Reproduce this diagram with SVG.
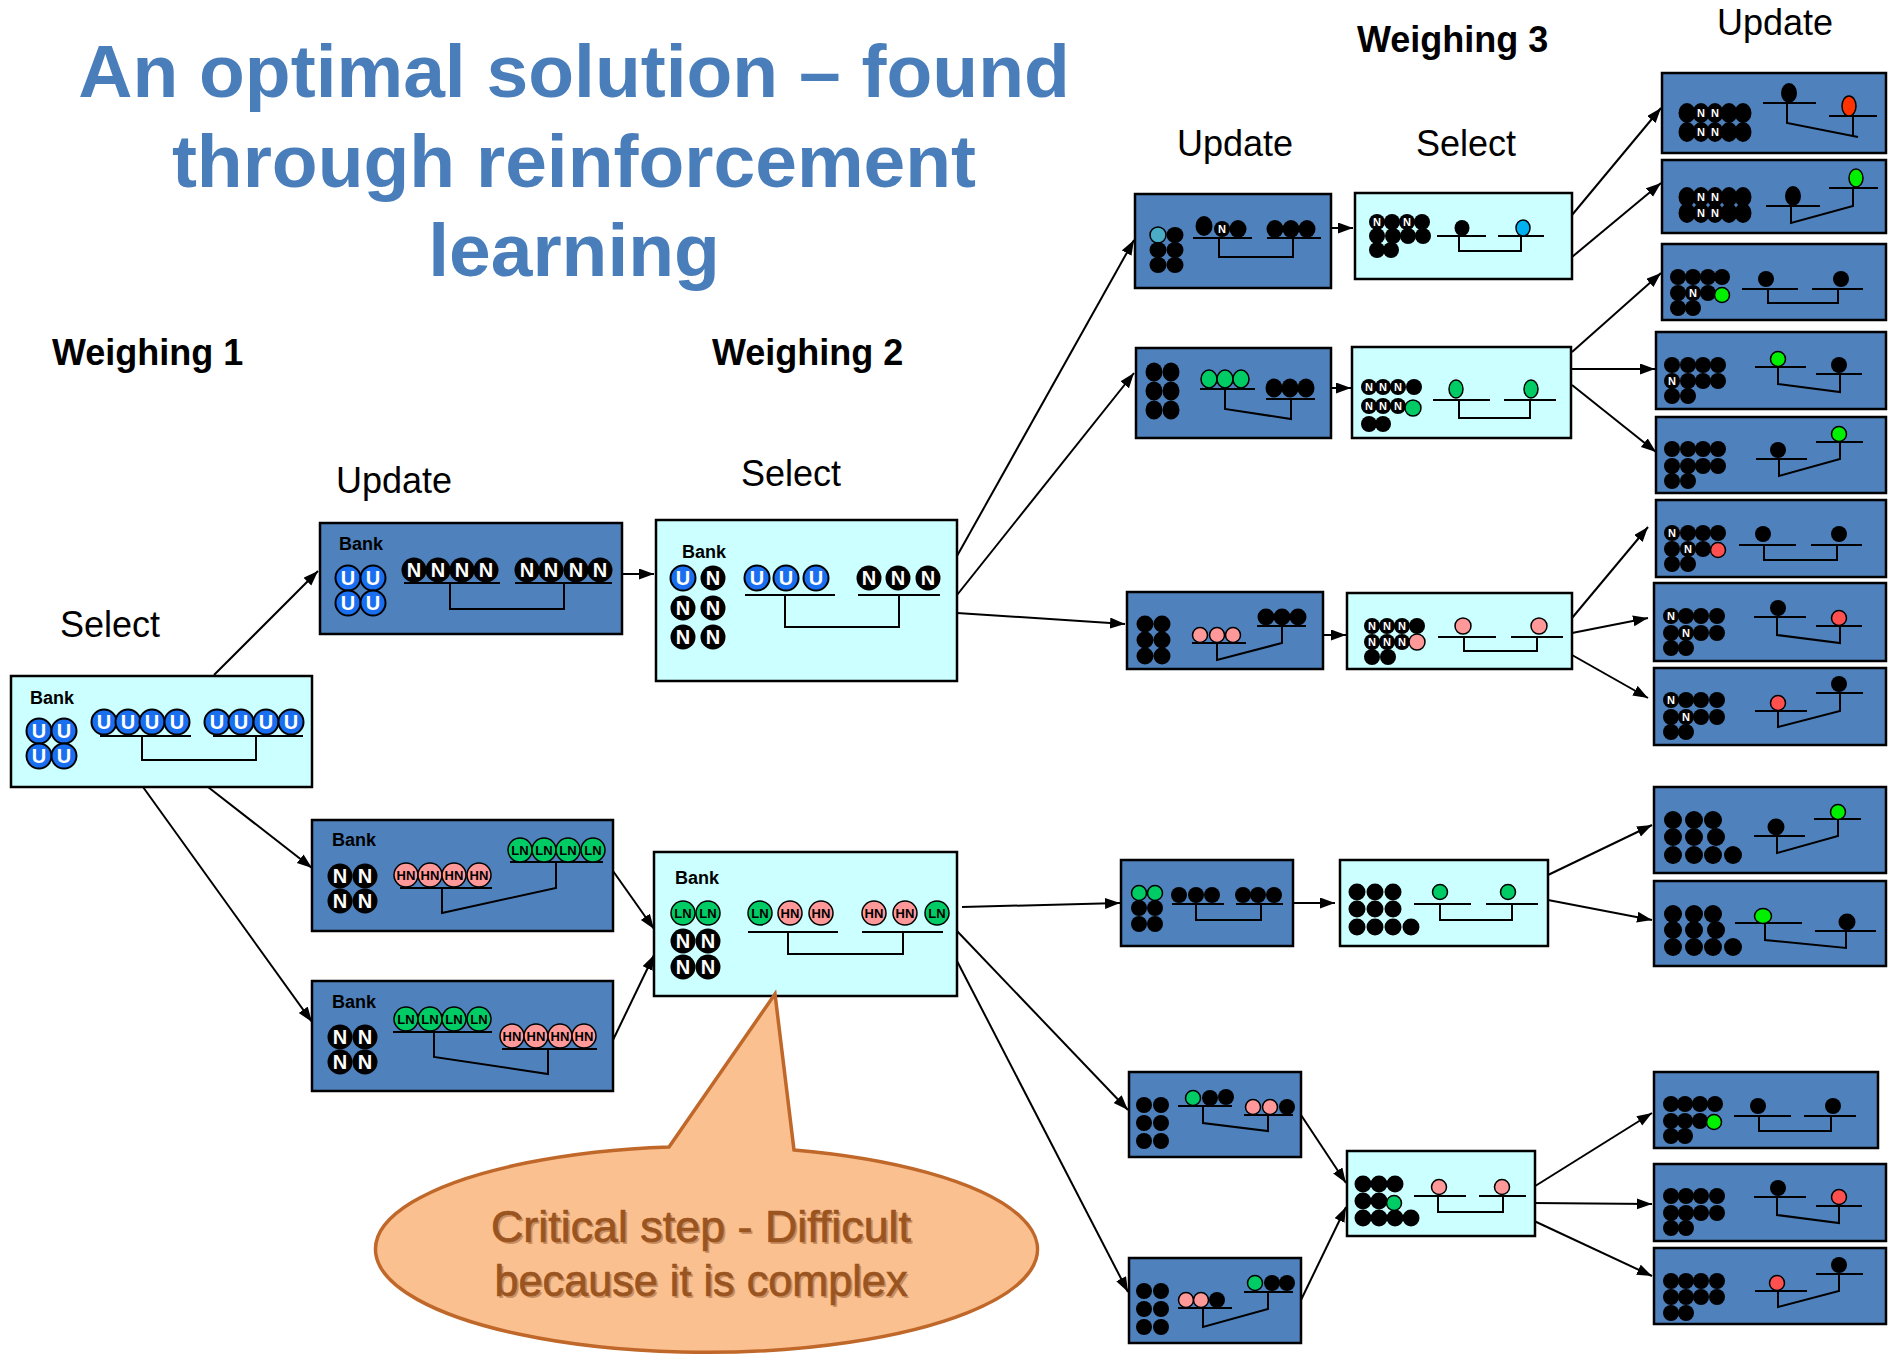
<svg xmlns="http://www.w3.org/2000/svg" width="1896" height="1356" viewBox="0 0 1896 1356">
<style>
  .title { font-family: "Liberation Sans", Arial, sans-serif; font-weight: bold; font-size: 75px; fill: #4a7ebb; text-anchor: middle; }
  .head { font-family: "Liberation Sans", Arial, sans-serif; font-weight: bold; font-size: 36px; fill: #000; }
  .step { font-family: "Liberation Sans", Arial, sans-serif; font-size: 36px; fill: #000; }
  .bank { font-family: "Liberation Sans", Arial, sans-serif; font-weight: bold; font-size: 18px; fill: #000; }
  .bxb { fill: #4f81bd; stroke: #000; stroke-width: 2.5; }
  .bxc { fill: #ccffff; stroke: #000; stroke-width: 2.5; }
  .ln { fill: none; stroke: #000; stroke-width: 2; }
  .k { fill: #000; }
  .g { fill: #00cc66; stroke: #000; stroke-width: 1.5; }
  .gb { fill: #00f000; stroke: #000; stroke-width: 1.5; }
  .p { fill: #ff9999; stroke: #000; stroke-width: 1.5; }
  .r { fill: #ff5050; stroke: #000; stroke-width: 1.5; }
  .rr { fill: #ff3300; stroke: #000; stroke-width: 1.5; }
  .tw { font-family: "Liberation Sans", Arial, sans-serif; font-weight: bold; font-size: 20px; fill: #fff; text-anchor: middle; }
  .tk { font-family: "Liberation Sans", Arial, sans-serif; font-weight: bold; font-size: 13px; fill: #000; text-anchor: middle; }
  .tn { font-family: "Liberation Sans", Arial, sans-serif; font-weight: bold; font-size: 11px; fill: #fff; text-anchor: middle; }
  .conn { fill: none; stroke: #000; stroke-width: 2; marker-end: url(#arrow); }
  .callout { fill: #fac090; stroke: #c0672a; stroke-width: 3.5; }
  .ctext { font-family: "Liberation Sans", Arial, sans-serif; font-size: 44px; fill: #9a5420; stroke: #9a5420; stroke-width: 0.7; text-anchor: middle; }
  .cshadow { font-family: "Liberation Sans", Arial, sans-serif; font-size: 44px; fill: #6b3410; opacity: 0.35; text-anchor: middle; }
</style>
<defs>
  <marker id="arrow" markerUnits="userSpaceOnUse" markerWidth="16" markerHeight="12" refX="15" refY="5.5" orient="auto">
    <path d="M0,0 L15,5.5 L0,11 z" fill="#000"/>
  </marker>
  <!-- large coins -->
  <g id="cU"><circle r="12.5" fill="#1a6ff0" stroke="#000" stroke-width="2"/><text class="tw" y="7">U</text></g>
  <g id="cN"><circle r="12.5" fill="#000"/><text class="tw" y="7">N</text></g>
  <g id="cHN"><circle r="12" class="p"/><text class="tk" y="4.7">HN</text></g>
  <g id="cLN"><circle r="12" class="g"/><text class="tk" y="4.7">LN</text></g>
  <!-- small coins -->
  <g id="kN"><circle r="8" fill="#000"/><text class="tn" y="4">N</text></g>
  <g id="kNe"><ellipse rx="8.5" ry="10" fill="#000"/><text class="tn" y="4">N</text></g>
</defs>

<!-- headings -->
<g id="headings">
  <text class="title" x="574" y="97">An optimal solution – found</text>
  <text class="title" x="574" y="187">through reinforcement</text>
  <text class="title" x="574" y="276">learning</text>
  <text class="head" x="52" y="365">Weighing 1</text>
  <text class="head" x="712" y="365">Weighing 2</text>
  <text class="head" x="1357" y="52">Weighing 3</text>
  <text class="step" x="60" y="637">Select</text>
  <text class="step" x="336" y="493">Update</text>
  <text class="step" x="741" y="486">Select</text>
  <text class="step" x="1177" y="156">Update</text>
  <text class="step" x="1416" y="156">Select</text>
  <text class="step" x="1717" y="35">Update</text>
</g>

<!-- connectors -->
<g id="connectors">
  <line class="conn" x1="214" y1="675" x2="318" y2="571"/>
  <line class="conn" x1="208" y1="787" x2="312" y2="868"/>
  <line class="conn" x1="143" y1="787" x2="312" y2="1022"/>
  <line class="conn" x1="622" y1="574" x2="654" y2="574"/>
  <line class="conn" x1="613" y1="871" x2="654" y2="929"/>
  <line class="conn" x1="613" y1="1040" x2="654" y2="955"/>
  <line class="conn" x1="957" y1="556" x2="1134" y2="240"/>
  <line class="conn" x1="957" y1="595" x2="1134" y2="373"/>
  <line class="conn" x1="957" y1="613" x2="1125" y2="624"/>
  <line class="conn" x1="962" y1="907" x2="1120" y2="903"/>
  <line class="conn" x1="957" y1="931" x2="1128" y2="1110"/>
  <line class="conn" x1="957" y1="961" x2="1128" y2="1292"/>
  <line class="conn" x1="1331" y1="228" x2="1353" y2="228"/>
  <line class="conn" x1="1331" y1="388" x2="1351" y2="388"/>
  <line class="conn" x1="1323" y1="635" x2="1346" y2="635"/>
  <line class="conn" x1="1293" y1="903" x2="1335" y2="903"/>
  <line class="conn" x1="1301" y1="1115" x2="1346" y2="1183"/>
  <line class="conn" x1="1301" y1="1300" x2="1346" y2="1207"/>
  <line class="conn" x1="1572" y1="215" x2="1661" y2="108"/>
  <line class="conn" x1="1572" y1="257" x2="1661" y2="183"/>
  <line class="conn" x1="1572" y1="352" x2="1661" y2="273"/>
  <line class="conn" x1="1572" y1="369" x2="1655" y2="369"/>
  <line class="conn" x1="1572" y1="385" x2="1656" y2="452"/>
  <line class="conn" x1="1572" y1="618" x2="1648" y2="527"/>
  <line class="conn" x1="1572" y1="633" x2="1648" y2="618"/>
  <line class="conn" x1="1572" y1="655" x2="1648" y2="698"/>
  <line class="conn" x1="1548" y1="875" x2="1652" y2="825"/>
  <line class="conn" x1="1548" y1="900" x2="1652" y2="920"/>
  <line class="conn" x1="1532" y1="1188" x2="1652" y2="1113"/>
  <line class="conn" x1="1532" y1="1203" x2="1652" y2="1204"/>
  <line class="conn" x1="1532" y1="1220" x2="1652" y2="1276"/>
</g>

<!-- weighing 1: select -->
<g id="w1-select">
  <rect class="bxc" x="11" y="676" width="301" height="111"/>
  <text class="bank" x="30" y="704">Bank</text>
  <use href="#cU" x="39" y="731"/><use href="#cU" x="64" y="731"/><use href="#cU" x="39" y="756"/><use href="#cU" x="64" y="756"/>
  <path class="ln" d="M100,736 H191 M213,736 H303 M142,736 V760 H256 V736"/>
  <use href="#cU" x="104" y="722"/><use href="#cU" x="128" y="722"/><use href="#cU" x="152" y="722"/><use href="#cU" x="177" y="722"/>
  <use href="#cU" x="217" y="722"/><use href="#cU" x="241" y="722"/><use href="#cU" x="266" y="722"/><use href="#cU" x="291" y="722"/>
</g>

<!-- weighing 1: updates -->
<g id="w1-update-a">
  <rect class="bxb" x="320" y="523" width="302" height="111"/>
  <text class="bank" x="339" y="550">Bank</text>
  <use href="#cU" x="348" y="578"/><use href="#cU" x="373" y="578"/><use href="#cU" x="348" y="603"/><use href="#cU" x="373" y="603"/>
  <path class="ln" d="M404,583 H500 M515,583 H612 M450,583 V609 H564 V583"/>
  <use href="#cN" x="414" y="570"/><use href="#cN" x="438" y="570"/><use href="#cN" x="462" y="570"/><use href="#cN" x="486" y="570"/>
  <use href="#cN" x="527" y="570"/><use href="#cN" x="551" y="570"/><use href="#cN" x="576" y="570"/><use href="#cN" x="600" y="570"/>
</g>
<g id="w1-update-b">
  <rect class="bxb" x="312" y="820" width="301" height="111"/>
  <text class="bank" x="332" y="846">Bank</text>
  <use href="#cN" x="340" y="876"/><use href="#cN" x="365" y="876"/><use href="#cN" x="340" y="901"/><use href="#cN" x="365" y="901"/>
  <path class="ln" d="M400,888 H492 M510,862 H603 M442,888 V913 L556,888 V862"/>
  <use href="#cHN" x="406" y="875"/><use href="#cHN" x="430" y="875"/><use href="#cHN" x="454" y="875"/><use href="#cHN" x="479" y="875"/>
  <use href="#cLN" x="520" y="850"/><use href="#cLN" x="544" y="850"/><use href="#cLN" x="568" y="850"/><use href="#cLN" x="593" y="850"/>
</g>
<g id="w1-update-c">
  <rect class="bxb" x="312" y="981" width="301" height="110"/>
  <text class="bank" x="332" y="1008">Bank</text>
  <use href="#cN" x="340" y="1037"/><use href="#cN" x="365" y="1037"/><use href="#cN" x="340" y="1062"/><use href="#cN" x="365" y="1062"/>
  <path class="ln" d="M393,1032 H492 M502,1049 H597 M434,1032 V1057 L548,1074 V1049"/>
  <use href="#cLN" x="406" y="1019"/><use href="#cLN" x="430" y="1019"/><use href="#cLN" x="454" y="1019"/><use href="#cLN" x="479" y="1019"/>
  <use href="#cHN" x="512" y="1036"/><use href="#cHN" x="536" y="1036"/><use href="#cHN" x="560" y="1036"/><use href="#cHN" x="584" y="1036"/>
</g>

<!-- weighing 2: selects -->
<g id="w2-select-a">
  <rect class="bxc" x="656" y="520" width="301" height="161"/>
  <text class="bank" x="682" y="558">Bank</text>
  <use href="#cU" x="683" y="578"/><use href="#cN" x="713" y="578"/><use href="#cN" x="683" y="608"/><use href="#cN" x="713" y="608"/><use href="#cN" x="683" y="637"/><use href="#cN" x="713" y="637"/>
  <path class="ln" d="M745,595 H835 M858,595 H940 M785,595 V627 H899 V595"/>
  <use href="#cU" x="757" y="578"/><use href="#cU" x="786" y="578"/><use href="#cU" x="816" y="578"/>
  <use href="#cN" x="869" y="578"/><use href="#cN" x="898" y="578"/><use href="#cN" x="928" y="578"/>
</g>
<g id="w2-select-b">
  <rect class="bxc" x="654" y="852" width="303" height="144"/>
  <text class="bank" x="675" y="884">Bank</text>
  <use href="#cLN" x="683" y="913"/><use href="#cLN" x="708" y="913"/>
  <use href="#cN" x="683" y="941"/><use href="#cN" x="708" y="941"/><use href="#cN" x="683" y="967"/><use href="#cN" x="708" y="967"/>
  <path class="ln" d="M748,932 H838 M862,932 H943 M788,932 V954 H903 V932"/>
  <use href="#cLN" x="760" y="913"/><use href="#cHN" x="790" y="913"/><use href="#cHN" x="821" y="913"/>
  <use href="#cHN" x="874" y="913"/><use href="#cHN" x="905" y="913"/><use href="#cLN" x="937" y="913"/>
</g>

<!-- weighing 3: updates and selects -->
<g id="w3-update-a">
  <rect class="bxb" x="1135" y="194" width="196" height="94"/>
  <ellipse cx="1158" cy="235" rx="8" ry="8" fill="#4bacc6" stroke="#000" stroke-width="1.5"/>
  <ellipse class="k" cx="1175" cy="235" rx="8.5" ry="8"/><ellipse class="k" cx="1158" cy="250" rx="8.5" ry="8"/><ellipse class="k" cx="1175" cy="250" rx="8.5" ry="8"/>
  <ellipse class="k" cx="1158" cy="265" rx="8.5" ry="8"/><ellipse class="k" cx="1175" cy="265" rx="8.5" ry="8"/>
  <path class="ln" d="M1193,238 H1252 M1267,238 H1321 M1219,238 V257 H1293 V238"/>
  <ellipse class="k" cx="1204" cy="226" rx="8.5" ry="10"/><use href="#kN" x="1222" y="229"/><ellipse class="k" cx="1238" cy="229" rx="8.5" ry="9"/>
  <ellipse class="k" cx="1275" cy="229" rx="8.5" ry="9"/><ellipse class="k" cx="1291" cy="229" rx="8.5" ry="9"/><ellipse class="k" cx="1307" cy="229" rx="8.5" ry="9"/>
</g>
<g id="w3-select-a">
  <rect class="bxc" x="1355" y="193" width="217" height="86"/>
  <circle class="k" cx="1393" cy="236" r="8"/><circle class="k" cx="1408" cy="236" r="8"/><circle class="k" cx="1423" cy="236" r="8"/><circle class="k" cx="1377" cy="236" r="8"/>
  <circle class="k" cx="1377" cy="250" r="8"/><circle class="k" cx="1391" cy="250" r="8"/>
  <use href="#kN" x="1377" y="222"/><circle class="k" cx="1392" cy="222" r="8"/><use href="#kN" x="1407" y="222"/><circle class="k" cx="1422" cy="222" r="8"/>
  <path class="ln" d="M1437,236 H1486 M1498,236 H1544 M1459,236 V251 H1521 V236"/>
  <ellipse class="k" cx="1462" cy="228" rx="7.5" ry="8"/>
  <ellipse cx="1523" cy="228" rx="7" ry="8" fill="#00b0f0" stroke="#000" stroke-width="1.5"/>
</g>
<g id="w3-update-b">
  <rect class="bxb" x="1136" y="348" width="195" height="90"/>
  <ellipse class="k" cx="1154" cy="372" rx="8.5" ry="9.5"/><ellipse class="k" cx="1171" cy="372" rx="8.5" ry="9.5"/>
  <ellipse class="k" cx="1154" cy="391" rx="8.5" ry="9.5"/><ellipse class="k" cx="1171" cy="391" rx="8.5" ry="9.5"/>
  <ellipse class="k" cx="1154" cy="410" rx="8.5" ry="9.5"/><ellipse class="k" cx="1171" cy="410" rx="8.5" ry="9.5"/>
  <path class="ln" d="M1200,389 H1255 M1266,399 H1315 M1225,389 V409 L1291,419 V399"/>
  <ellipse class="g" cx="1209" cy="379" rx="8" ry="9"/><ellipse class="g" cx="1225" cy="379" rx="8" ry="9"/><ellipse class="g" cx="1241" cy="379" rx="8" ry="9"/>
  <ellipse class="k" cx="1274" cy="388" rx="8.5" ry="9.5"/><ellipse class="k" cx="1290" cy="388" rx="8.5" ry="9.5"/><ellipse class="k" cx="1306" cy="388" rx="8.5" ry="9.5"/>
</g>
<g id="w3-select-b">
  <rect class="bxc" x="1352" y="347" width="219" height="91"/>
  <circle class="k" cx="1369" cy="424" r="8"/><circle class="k" cx="1383" cy="424" r="8"/>
  <use href="#kN" x="1369" y="406"/><use href="#kN" x="1383" y="406"/><use href="#kN" x="1398" y="406"/><circle class="g" cx="1413" cy="408" r="8"/>
  <use href="#kN" x="1369" y="387"/><use href="#kN" x="1383" y="387"/><use href="#kN" x="1398" y="387"/><circle class="k" cx="1414" cy="387" r="8"/>
  <path class="ln" d="M1433,400 H1490 M1504,400 H1556 M1459,400 V418 H1530 V400"/>
  <ellipse class="g" cx="1456" cy="389" rx="7" ry="9"/><ellipse class="g" cx="1531" cy="389" rx="7" ry="9"/>
</g>
<g id="w3-update-c">
  <rect class="bxb" x="1127" y="592" width="196" height="77"/>
  <circle class="k" cx="1145" cy="624" r="8.5"/><circle class="k" cx="1162" cy="624" r="8.5"/><circle class="k" cx="1145" cy="640" r="8.5"/>
  <circle class="k" cx="1162" cy="640" r="8.5"/><circle class="k" cx="1145" cy="656" r="8.5"/><circle class="k" cx="1162" cy="656" r="8.5"/>
  <path class="ln" d="M1192,643 H1246 M1257,626 H1306 M1217,643 V660 L1282,643 V626"/>
  <circle class="p" cx="1200" cy="635" r="7.5"/><circle class="p" cx="1217" cy="635" r="7.5"/><circle class="p" cx="1233" cy="635" r="7.5"/>
  <circle class="k" cx="1266" cy="617" r="8.5"/><circle class="k" cx="1282" cy="617" r="8.5"/><circle class="k" cx="1298" cy="617" r="8.5"/>
</g>
<g id="w3-select-c">
  <rect class="bxc" x="1347" y="593" width="225" height="76"/>
  <circle class="k" cx="1372" cy="657" r="8"/><circle class="k" cx="1388" cy="657" r="8"/>
  <use href="#kN" x="1372" y="642"/><use href="#kN" x="1387" y="642"/><use href="#kN" x="1402" y="642"/><circle class="p" cx="1417" cy="642" r="8"/>
  <use href="#kN" x="1372" y="626"/><use href="#kN" x="1387" y="626"/><use href="#kN" x="1402" y="626"/><circle class="k" cx="1417" cy="626" r="8"/>
  <path class="ln" d="M1438,637 H1496 M1511,637 H1563 M1464,637 V651 H1537 V637"/>
  <circle class="p" cx="1463" cy="626" r="8"/><circle class="p" cx="1539" cy="626" r="8"/>
</g>
<g id="w3-update-d">
  <rect class="bxb" x="1121" y="860" width="172" height="86"/>
  <circle class="g" cx="1139" cy="893" r="7.5"/><circle class="g" cx="1155" cy="893" r="7.5"/>
  <circle class="k" cx="1139" cy="908" r="8"/><circle class="k" cx="1155" cy="908" r="8"/><circle class="k" cx="1139" cy="924" r="8"/><circle class="k" cx="1155" cy="924" r="8"/>
  <path class="ln" d="M1172,904 H1224 M1236,904 H1283 M1196,904 V920 H1261 V904"/>
  <circle class="k" cx="1179" cy="895" r="8"/><circle class="k" cx="1196" cy="895" r="8"/><circle class="k" cx="1212" cy="895" r="8"/>
  <circle class="k" cx="1243" cy="895" r="8"/><circle class="k" cx="1258" cy="895" r="8"/><circle class="k" cx="1274" cy="895" r="8"/>
</g>
<g id="w3-select-d">
  <rect class="bxc" x="1340" y="860" width="208" height="86"/>
  <circle class="k" cx="1357" cy="892" r="8.5"/><circle class="k" cx="1375" cy="892" r="8.5"/><circle class="k" cx="1393" cy="892" r="8.5"/>
  <circle class="k" cx="1357" cy="909" r="8.5"/><circle class="k" cx="1375" cy="909" r="8.5"/><circle class="k" cx="1393" cy="909" r="8.5"/>
  <circle class="k" cx="1357" cy="927" r="8.5"/><circle class="k" cx="1375" cy="927" r="8.5"/><circle class="k" cx="1393" cy="927" r="8.5"/><circle class="k" cx="1411" cy="927" r="8.5"/>
  <path class="ln" d="M1414,904 H1471 M1486,904 H1538 M1440,904 V920 H1512 V904"/>
  <circle class="g" cx="1440" cy="892" r="7.5"/><circle class="g" cx="1508" cy="892" r="7.5"/>
</g>
<g id="w3-update-e">
  <rect class="bxb" x="1129" y="1072" width="172" height="85"/>
  <circle class="k" cx="1144" cy="1105" r="8"/><circle class="k" cx="1161" cy="1105" r="8"/><circle class="k" cx="1144" cy="1123" r="8"/>
  <circle class="k" cx="1161" cy="1123" r="8"/><circle class="k" cx="1144" cy="1141" r="8"/><circle class="k" cx="1161" cy="1141" r="8"/>
  <path class="ln" d="M1178,1106 H1232 M1244,1115 H1293 M1203,1106 V1123 L1268,1131 V1115"/>
  <circle class="k" cx="1210" cy="1098" r="8"/><circle class="k" cx="1226" cy="1097" r="8"/><circle class="g" cx="1193" cy="1098" r="7.5"/>
  <circle class="k" cx="1287" cy="1107" r="8"/><circle class="p" cx="1253" cy="1107" r="7.5"/><circle class="p" cx="1270" cy="1107" r="7.5"/>
</g>
<g id="w3-update-f">
  <rect class="bxb" x="1129" y="1258" width="172" height="85"/>
  <circle class="k" cx="1144" cy="1291" r="8"/><circle class="k" cx="1161" cy="1291" r="8"/><circle class="k" cx="1144" cy="1309" r="8"/>
  <circle class="k" cx="1161" cy="1309" r="8"/><circle class="k" cx="1144" cy="1327" r="8"/><circle class="k" cx="1161" cy="1327" r="8"/>
  <path class="ln" d="M1178,1308 H1232 M1244,1292 H1293 M1203,1308 V1327 L1268,1309 V1292"/>
  <circle class="k" cx="1217" cy="1300" r="8"/><circle class="p" cx="1186" cy="1300" r="7.5"/><circle class="p" cx="1201" cy="1300" r="7.5"/>
  <circle class="k" cx="1272" cy="1283" r="8"/><circle class="k" cx="1287" cy="1283" r="8"/><circle class="g" cx="1255" cy="1283" r="7.5"/>
</g>
<g id="w3-select-ef">
  <rect class="bxc" x="1347" y="1151" width="188" height="85"/>
  <circle class="k" cx="1363" cy="1184" r="8.5"/><circle class="k" cx="1379" cy="1184" r="8.5"/><circle class="k" cx="1395" cy="1184" r="8.5"/>
  <circle class="k" cx="1363" cy="1201" r="8.5"/><circle class="k" cx="1379" cy="1201" r="8.5"/>
  <circle class="k" cx="1363" cy="1218" r="8.5"/><circle class="k" cx="1379" cy="1218" r="8.5"/><circle class="k" cx="1395" cy="1218" r="8.5"/><circle class="k" cx="1411" cy="1218" r="8.5"/>
  <circle class="g" cx="1394" cy="1203" r="7.5"/>
  <path class="ln" d="M1414,1196 H1466 M1479,1196 H1526 M1438,1196 V1212 H1503 V1196"/>
  <circle class="p" cx="1439" cy="1187" r="7.5"/><circle class="p" cx="1502" cy="1187" r="7.5"/>
</g>

<!-- final updates -->
<g id="final-1">
  <rect class="bxb" x="1662" y="73" width="224" height="80"/>
  <ellipse class="k" cx="1687" cy="113" rx="8.5" ry="10"/><ellipse class="k" cx="1729" cy="113" rx="8.5" ry="10"/><ellipse class="k" cx="1743" cy="113" rx="8.5" ry="10"/>
  <ellipse class="k" cx="1687" cy="132" rx="8.5" ry="10"/><ellipse class="k" cx="1729" cy="132" rx="8.5" ry="10"/><ellipse class="k" cx="1743" cy="132" rx="8.5" ry="10"/>
  <use href="#kNe" x="1701" y="113"/><use href="#kNe" x="1715" y="113"/><use href="#kNe" x="1701" y="132"/><use href="#kNe" x="1715" y="132"/>
  <path class="ln" d="M1763,103 H1816 M1829,116 H1877 M1787,103 V123 L1858,137 M1853,116 V136"/>
  <ellipse class="k" cx="1789" cy="93" rx="8" ry="10"/>
  <ellipse class="rr" cx="1849" cy="106" rx="7" ry="10"/>
</g>
<g id="final-2">
  <rect class="bxb" x="1662" y="160" width="224" height="73"/>
  <ellipse class="k" cx="1687" cy="197" rx="8.5" ry="10"/><ellipse class="k" cx="1729" cy="197" rx="8.5" ry="10"/><ellipse class="k" cx="1743" cy="197" rx="8.5" ry="10"/>
  <ellipse class="k" cx="1687" cy="213" rx="8.5" ry="10"/><ellipse class="k" cx="1729" cy="213" rx="8.5" ry="10"/><ellipse class="k" cx="1743" cy="213" rx="8.5" ry="10"/>
  <use href="#kNe" x="1701" y="197"/><use href="#kNe" x="1715" y="197"/><use href="#kNe" x="1701" y="213"/><use href="#kNe" x="1715" y="213"/>
  <path class="ln" d="M1766,206 H1820 M1829,188 H1878 M1791,206 V223 L1853,206 V188"/>
  <ellipse class="k" cx="1793" cy="196" rx="8" ry="10"/>
  <ellipse class="gb" cx="1856" cy="178" rx="7" ry="9"/>
</g>
<g id="final-3">
  <rect class="bxb" x="1662" y="244" width="224" height="76"/>
  <circle class="k" cx="1678" cy="277" r="8"/><circle class="k" cx="1693" cy="277" r="8"/><circle class="k" cx="1708" cy="277" r="8"/><circle class="k" cx="1722" cy="277" r="8"/>
  <circle class="k" cx="1678" cy="308" r="8"/><circle class="k" cx="1693" cy="308" r="8"/>
  <circle class="k" cx="1678" cy="293" r="8"/><circle class="k" cx="1708" cy="293" r="8"/><use href="#kN" x="1693" y="293"/><circle class="gb" cx="1722" cy="295" r="7.5"/>
  <path class="ln" d="M1742,289 H1798 M1812,289 H1863 M1768,289 V303 H1838 V289"/>
  <circle class="k" cx="1766" cy="279" r="8"/><circle class="k" cx="1841" cy="279" r="8"/>
</g>
<g id="final-4">
  <rect class="bxb" x="1656" y="332" width="230" height="77"/>
  <circle class="k" cx="1672" cy="365" r="8"/><circle class="k" cx="1688" cy="365" r="8"/><circle class="k" cx="1703" cy="365" r="8"/><circle class="k" cx="1718" cy="365" r="8"/>
  <circle class="k" cx="1672" cy="396" r="8"/><circle class="k" cx="1688" cy="396" r="8"/>
  <circle class="k" cx="1688" cy="381" r="8"/><circle class="k" cx="1703" cy="381" r="8"/><circle class="k" cx="1718" cy="381" r="8"/><use href="#kN" x="1672" y="381"/>
  <path class="ln" d="M1755,367 H1806 M1816,374 H1862 M1778,367 V384 L1840,392 V374"/>
  <circle class="gb" cx="1778" cy="359" r="7.5"/><circle class="k" cx="1839" cy="365" r="8"/>
</g>
<g id="final-5">
  <rect class="bxb" x="1656" y="417" width="230" height="76"/>
  <circle class="k" cx="1672" cy="449" r="8"/><circle class="k" cx="1688" cy="449" r="8"/><circle class="k" cx="1703" cy="449" r="8"/><circle class="k" cx="1718" cy="449" r="8"/>
  <circle class="k" cx="1672" cy="466" r="8"/><circle class="k" cx="1688" cy="466" r="8"/><circle class="k" cx="1703" cy="466" r="8"/><circle class="k" cx="1718" cy="466" r="8"/>
  <circle class="k" cx="1672" cy="481" r="8"/><circle class="k" cx="1688" cy="481" r="8"/>
  <path class="ln" d="M1756,459 H1807 M1816,442 H1863 M1779,459 V476 L1840,459 V442"/>
  <circle class="k" cx="1778" cy="450" r="8"/><circle class="gb" cx="1839" cy="434" r="7.5"/>
</g>
<g id="final-6">
  <rect class="bxb" x="1656" y="500" width="230" height="77"/>
  <circle class="k" cx="1688" cy="533" r="8"/><circle class="k" cx="1703" cy="533" r="8"/><circle class="k" cx="1718" cy="533" r="8"/>
  <circle class="k" cx="1672" cy="564" r="8"/><circle class="k" cx="1688" cy="564" r="8"/>
  <circle class="k" cx="1672" cy="549" r="8"/><circle class="k" cx="1703" cy="549" r="8"/>
  <use href="#kN" x="1672" y="533"/><use href="#kN" x="1688" y="549"/><circle class="r" cx="1718" cy="550" r="7.5"/>
  <path class="ln" d="M1739,545 H1796 M1811,545 H1862 M1764,545 V560 H1837 V545"/>
  <circle class="k" cx="1763" cy="534" r="8"/><circle class="k" cx="1839" cy="534" r="8"/>
</g>
<g id="final-7">
  <rect class="bxb" x="1654" y="583" width="232" height="78"/>
  <circle class="k" cx="1686" cy="616" r="8"/><circle class="k" cx="1701" cy="616" r="8"/><circle class="k" cx="1717" cy="616" r="8"/>
  <circle class="k" cx="1671" cy="648" r="8"/><circle class="k" cx="1686" cy="648" r="8"/>
  <circle class="k" cx="1671" cy="633" r="8"/><circle class="k" cx="1701" cy="633" r="8"/><circle class="k" cx="1717" cy="633" r="8"/>
  <use href="#kN" x="1671" y="616"/><use href="#kN" x="1686" y="633"/>
  <path class="ln" d="M1754,617 H1806 M1816,626 H1862 M1777,617 V635 L1840,643 V626"/>
  <circle class="k" cx="1778" cy="608" r="8"/><circle class="r" cx="1839" cy="618" r="7.5"/>
</g>
<g id="final-8">
  <rect class="bxb" x="1654" y="668" width="232" height="77"/>
  <circle class="k" cx="1686" cy="700" r="8"/><circle class="k" cx="1701" cy="700" r="8"/><circle class="k" cx="1717" cy="700" r="8"/>
  <circle class="k" cx="1671" cy="732" r="8"/><circle class="k" cx="1686" cy="732" r="8"/>
  <circle class="k" cx="1671" cy="717" r="8"/><circle class="k" cx="1701" cy="717" r="8"/><circle class="k" cx="1717" cy="717" r="8"/>
  <use href="#kN" x="1671" y="700"/><use href="#kN" x="1686" y="717"/>
  <path class="ln" d="M1755,711 H1807 M1816,693 H1863 M1778,711 V727 L1840,711 V693"/>
  <circle class="r" cx="1778" cy="703" r="7.5"/><circle class="k" cx="1839" cy="684" r="8"/>
</g>
<g id="final-9">
  <rect class="bxb" x="1654" y="787" width="232" height="86"/>
  <circle class="k" cx="1673" cy="820" r="9"/><circle class="k" cx="1694" cy="820" r="9"/><circle class="k" cx="1713" cy="820" r="9"/>
  <circle class="k" cx="1673" cy="837" r="9"/><circle class="k" cx="1694" cy="837" r="9"/><circle class="k" cx="1716" cy="837" r="9"/>
  <circle class="k" cx="1673" cy="855" r="9"/><circle class="k" cx="1694" cy="855" r="9"/><circle class="k" cx="1713" cy="855" r="9"/><circle class="k" cx="1733" cy="855" r="9"/>
  <path class="ln" d="M1754,836 H1805 M1814,819 H1861 M1777,836 V853 L1838,836 V819"/>
  <circle class="k" cx="1776" cy="827" r="8.5"/><circle class="gb" cx="1838" cy="812" r="7.5"/>
</g>
<g id="final-10">
  <rect class="bxb" x="1654" y="881" width="232" height="85"/>
  <circle class="k" cx="1673" cy="914" r="9"/><circle class="k" cx="1694" cy="914" r="9"/><circle class="k" cx="1713" cy="914" r="9"/>
  <circle class="k" cx="1673" cy="930" r="9"/><circle class="k" cx="1694" cy="930" r="9"/><circle class="k" cx="1716" cy="930" r="9"/>
  <circle class="k" cx="1673" cy="947" r="9"/><circle class="k" cx="1694" cy="947" r="9"/><circle class="k" cx="1713" cy="947" r="9"/><circle class="k" cx="1733" cy="947" r="9"/>
  <path class="ln" d="M1735,923 H1802 M1815,931 H1876 M1765,923 V940 L1846,948 V931"/>
  <ellipse class="gb" cx="1763" cy="916" rx="8.5" ry="7.5"/><circle class="k" cx="1847" cy="922" r="8.5"/>
</g>
<g id="final-11">
  <rect class="bxb" x="1654" y="1072" width="224" height="76"/>
  <circle class="k" cx="1671" cy="1104" r="8"/><circle class="k" cx="1685" cy="1104" r="8"/><circle class="k" cx="1700" cy="1104" r="8"/><circle class="k" cx="1715" cy="1104" r="8"/>
  <circle class="k" cx="1671" cy="1121" r="8"/><circle class="k" cx="1685" cy="1121" r="8"/><circle class="k" cx="1700" cy="1121" r="8"/>
  <circle class="k" cx="1671" cy="1136" r="8"/><circle class="k" cx="1685" cy="1136" r="8"/>
  <circle class="gb" cx="1714" cy="1122" r="7.5"/>
  <path class="ln" d="M1734,1116 H1791 M1804,1116 H1856 M1759,1116 V1131 H1831 V1116"/>
  <circle class="k" cx="1758" cy="1106" r="8"/><circle class="k" cx="1833" cy="1106" r="8"/>
</g>
<g id="final-12">
  <rect class="bxb" x="1654" y="1164" width="232" height="77"/>
  <circle class="k" cx="1671" cy="1196" r="8"/><circle class="k" cx="1686" cy="1196" r="8"/><circle class="k" cx="1701" cy="1196" r="8"/><circle class="k" cx="1717" cy="1196" r="8"/>
  <circle class="k" cx="1671" cy="1213" r="8"/><circle class="k" cx="1686" cy="1213" r="8"/><circle class="k" cx="1701" cy="1213" r="8"/><circle class="k" cx="1717" cy="1213" r="8"/>
  <circle class="k" cx="1671" cy="1228" r="8"/><circle class="k" cx="1686" cy="1228" r="8"/>
  <path class="ln" d="M1754,1197 H1806 M1816,1206 H1862 M1777,1197 V1215 L1839,1223 V1206"/>
  <circle class="k" cx="1778" cy="1188" r="8"/><circle class="r" cx="1839" cy="1197" r="7.5"/>
</g>
<g id="final-13">
  <rect class="bxb" x="1654" y="1248" width="232" height="76"/>
  <circle class="k" cx="1671" cy="1281" r="8"/><circle class="k" cx="1686" cy="1281" r="8"/><circle class="k" cx="1701" cy="1281" r="8"/><circle class="k" cx="1717" cy="1281" r="8"/>
  <circle class="k" cx="1671" cy="1297" r="8"/><circle class="k" cx="1686" cy="1297" r="8"/><circle class="k" cx="1701" cy="1297" r="8"/><circle class="k" cx="1717" cy="1297" r="8"/>
  <circle class="k" cx="1671" cy="1313" r="8"/><circle class="k" cx="1686" cy="1313" r="8"/>
  <path class="ln" d="M1755,1291 H1807 M1816,1274 H1863 M1778,1291 V1307 L1839,1291 V1274"/>
  <circle class="r" cx="1777" cy="1283" r="7.5"/><circle class="k" cx="1839" cy="1265" r="8"/>
</g>

<!-- callout -->
<g id="callout">
  <path class="callout" d="M794,1150 L775,994 L669,1147 A331,103 0 1 0 794,1150 Z"/>
  <text class="cshadow" x="703" y="1244" textLength="420" lengthAdjust="spacingAndGlyphs">Critical step - Difficult</text>
  <text class="cshadow" x="703" y="1298" textLength="413" lengthAdjust="spacingAndGlyphs">because it is complex</text>
  <text class="ctext" x="701" y="1242" textLength="420" lengthAdjust="spacingAndGlyphs">Critical step - Difficult</text>
  <text class="ctext" x="701" y="1296" textLength="413" lengthAdjust="spacingAndGlyphs">because it is complex</text>
</g>
</svg>
